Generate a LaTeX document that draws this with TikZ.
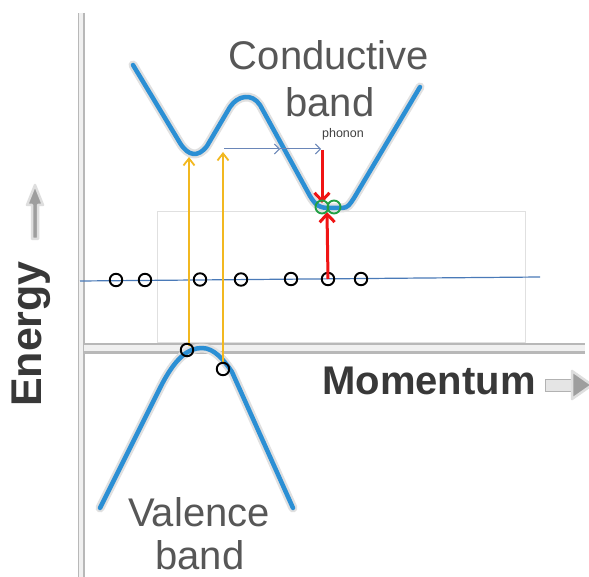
\documentclass[tikz,border=0pt]{standalone}
\usepackage{fontspec}
\setmainfont{Liberation Sans}
\usetikzlibrary{arrows.meta}
\definecolor{bandblue}{HTML}{2B8FD4}
\definecolor{fermiblue}{HTML}{4A7AB8}
\definecolor{phonblue}{HTML}{6A86B8}
\definecolor{ayellow}{HTML}{F2B820}
\definecolor{ared}{HTML}{F01414}
\definecolor{agreen}{HTML}{22A045}
\tikzset{
  hole/.style={circle, draw=black, line width=1.9pt, minimum size=12.5pt, inner sep=0pt},
  ghole/.style={circle, draw=agreen, line width=1.9pt, minimum size=13pt, inner sep=0pt},
  glow/.style={draw=black!12, line width=9pt, line cap=round, line join=round},
  band/.style={draw=bandblue, line width=4.5pt, line cap=round, line join=round},
  axisouter/.style={draw=black!28, line width=7pt},
  axisinner/.style={draw=black!6, line width=3.5pt},
  yarrow/.style={draw=ayellow, line width=1.8pt, -{Straight Barb[length=7pt,width=11pt,line width=1.8pt]}},
  rarrow/.style={draw=ared, line width=3pt, -{Straight Barb[length=8pt,width=15pt,line width=3pt]}},
  parrow/.style={draw=phonblue, line width=1pt, -{Straight Barb[length=5pt,width=10pt,line width=1pt]}},
  bigtext/.style={text=black!66, font=\fontsize{40}{40}\selectfont, inner sep=0pt},
  axtext/.style={text=black!78, font=\bfseries\fontsize{40}{40}\selectfont, inner sep=0pt},
  blockglow/.style={fill=black!38, draw=black!13, line width=2.5pt, line join=round}
}
\begin{document}
\begin{tikzpicture}[x=1pt,y=-1pt]
\useasboundingbox (0,0) rectangle (589,577);
\fill[white] (0,0) rectangle (589,577);

% light gray box
\draw[black!12, line width=0.8pt] (157,211) rectangle (525,342);

% axes
\coordinate (vtop) at (81,13);
\coordinate (vbot) at (81,577);
\coordinate (hl) at (84,348);
\coordinate (hr) at (585,348);
\draw[axisouter] (vtop) -- (vbot);
\draw[axisinner] (vtop) -- (vbot);
\draw[axisouter, line width=11pt] (hl) -- (hr);
\draw[axisinner, line width=6pt] (hl) -- (hr);

% conductive band
\path[glow] (133,65) -- (180,143) .. controls (188,156) and (198,158) .. (207,146) -- (230,107)
  .. controls (238,95) and (252,93) .. (260,105) -- (310,196)
  .. controls (316,206) and (320,208) .. (330,208) -- (342,208)
  .. controls (348,208) and (350,204) .. (354,198) -- (420,87);
\path[band] (133,65) -- (180,143) .. controls (188,156) and (198,158) .. (207,146) -- (230,107)
  .. controls (238,95) and (252,93) .. (260,105) -- (310,196)
  .. controls (316,206) and (320,208) .. (330,208) -- (342,208)
  .. controls (348,208) and (350,204) .. (354,198) -- (420,87);

% valence band
\path[glow] (100,508) -- (160,388) .. controls (175,358) and (188,348) .. (202,348)
  .. controls (214,348) and (224,360) .. (232,372) -- (293,508);
\path[band] (100,508) -- (160,388) .. controls (175,358) and (188,348) .. (202,348)
  .. controls (214,348) and (224,360) .. (232,372) -- (293,508);

% labels
\node[bigtext] (cond) at (329,55) {Conductive};
\node[bigtext] (cband) at (330,102) {band};
\node[bigtext] (val) at (199,512) {Valence};
\node[bigtext, anchor=base, text depth=0pt] (vband) at (200,569) {band};
\node[axtext] (mom) at (429,381) {Momentum};
\node[axtext, rotate=90, font=\bfseries\fontsize{43}{43}\selectfont] (en) at (31,334) {Energy};

% block arrows
\path[blockglow] (35,185) -- (43,205) -- (38,205) -- (38,239) -- (32,239) -- (32,205) -- (27,205) -- cycle;
\path[fill=black!10, draw=black!30, line width=1pt] (545,379) rectangle (572,391);
\path[blockglow] (592,385) -- (572,371) -- (572,399) -- cycle;

% Fermi level line
\coordinate (fl) at (80,281);
\coordinate (fr) at (540,277);
\draw[fermiblue, line width=1.2pt] (fl) -- (fr);

% phonon
\node[text=black!75, font=\fontsize{12.5}{12.5}\selectfont, inner sep=0pt] (phon) at (343,134) {phonon};
\coordinate (p0) at (224,149);
\coordinate (pm) at (280,149);
\coordinate (p1) at (321,149);
\draw[parrow] (p0) -- (pm);
\draw[parrow] (pm) -- (p1);

% yellow arrows
\coordinate (y1b) at (189,346);
\coordinate (y1t) at (189,157);
\coordinate (y2b) at (223,362);
\coordinate (y2t) at (223,152);
\draw[yarrow] (y1b) -- (y1t);
\draw[yarrow] (y2b) -- (y2t);

% holes on valence band
\node[hole] (v1) at (187,350) {};
\node[hole] (v2) at (223,369) {};

% holes on fermi line
\node[hole] (h1) at (116,280) {};
\node[hole] (h2) at (145,280) {};
\node[hole] (h3) at (200,279.5) {};
\node[hole] (h4) at (241,279.5) {};
\node[hole] (h5) at (291,279) {};
\node[hole] (h6) at (328,279) {};
\node[hole] (h7) at (361,279) {};

% red arrows
\coordinate (rd0) at (322,150);
\coordinate (rd1) at (322,203);
\coordinate (ru1) at (327,212);
\draw[rarrow] (rd0) -- (rd1);
\draw[rarrow] (h6.center) -- (ru1);

% green circles
\node[ghole] (g1) at (322,207) {};
\node[ghole] (g2) at (334,207) {};
\end{tikzpicture}
\end{document}
